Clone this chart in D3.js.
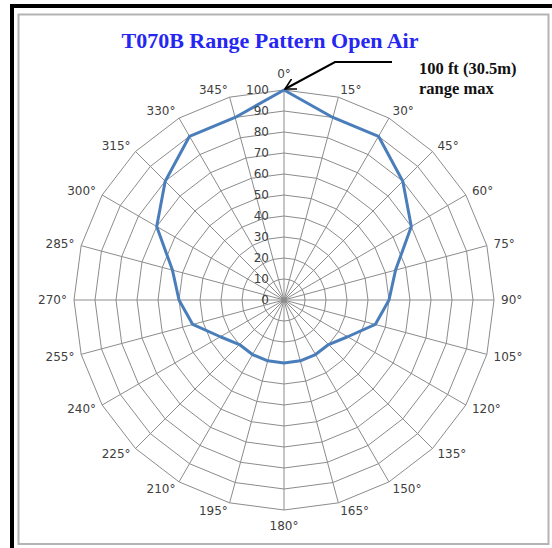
<!DOCTYPE html>
<html>
<head>
<meta charset="utf-8">
<script src="https://cdn.jsdelivr.net/npm/d3@7"></script>
<style>
  body { margin: 0; background: #fff; }
  svg { display: block; }
</style>
</head>
<body>
<div id="chart"></div>
<script>
/* T070B range pattern - radar chart */

const directions = [0, 15, 30, 45, 60, 75, 90, 105, 120, 135, 150, 165,
  180, 195, 210, 225, 240, 255, 270, 285, 300, 315, 330, 345];
const range = [100, 90, 90, 80, 70, 55, 50, 45, 35, 30, 30, 30,
  30, 30, 30, 30, 35, 45, 50, 55, 70, 80, 90, 90];
const ticks = [0, 10, 20, 30, 40, 50, 60, 70, 80, 90, 100];

const width = 552, height = 548;
const cx = 284, cy = 300;

const svg = d3.select('#chart').append('svg')
  .attr('width', width)
  .attr('height', height);

// Frame: black outer edges + gray inner box
svg.append('rect').attr('x', 10).attr('y', 4).attr('width', 542).attr('height', 4).attr('fill', '#000');
svg.append('rect').attr('x', 10).attr('y', 4).attr('width', 4).attr('height', 544).attr('fill', '#000');
svg.append('rect')
  .attr('x', 18.5).attr('y', 14.5).attr('width', 530).attr('height', 529.5)
  .attr('fill', 'none').attr('stroke', '#b4b4b4').attr('stroke-width', 2);

const r = d3.scaleLinear().domain([0, 100]).range([0, 210]);
const angle = d3.scaleLinear().domain([0, 360]).range([0, 2 * Math.PI]);

const g = svg.append('g').attr('transform', `translate(${cx},${cy})`);

const pt = (deg, v) => [Math.sin(angle(deg)) * r(v), -Math.cos(angle(deg)) * r(v)];

// Ring polygons
g.selectAll('.ring')
  .data(ticks.slice(1))
  .enter()
  .append('polygon')
  .attr('class', 'ring')
  .attr('points', t => directions.map(d => pt(d, t).join(',')).join(' '))
  .attr('fill', 'none')
  .attr('stroke', '#8c8c8c')
  .attr('stroke-width', 1);

// Spokes
g.selectAll('.spoke')
  .data(directions)
  .enter()
  .append('line')
  .attr('class', 'spoke')
  .attr('x1', 0).attr('y1', 0)
  .attr('x2', d => pt(d, 100)[0])
  .attr('y2', d => pt(d, 100)[1])
  .attr('stroke', '#8c8c8c')
  .attr('stroke-width', 1);

// Series
const line = d3.lineRadial()
  .angle(d => angle(d[0]))
  .radius(d => r(d[1]))
  .curve(d3.curveLinearClosed);

g.append('path')
  .datum(directions.map((d, i) => [d, range[i]]))
  .attr('d', line)
  .attr('fill', 'none')
  .attr('stroke', '#4a7ebb')
  .attr('stroke-width', 3)
  .attr('stroke-linejoin', 'round');

// Value labels along 0 deg spoke
g.selectAll('.tick')
  .data(ticks)
  .enter()
  .append('text')
  .attr('class', 'tick')
  .attr('x', -15)
  .attr('y', t => -r(t))
  .attr('dy', '0.35em')
  .attr('text-anchor', 'end')
  .attr('font-family', 'DejaVu Sans, sans-serif')
  .attr('font-size', '12px')
  .attr('fill', '#404040')
  .text(t => t);

// Direction labels
g.selectAll('.dir')
  .data(directions)
  .enter()
  .append('text')
  .attr('class', 'dir')
  .each(function(d) {
    const [ex, ey] = pt(d, 100);
    const s = Math.sin(angle(d)), c = -Math.cos(angle(d));
    const el = d3.select(this);
    if (d === 0 || d === 180) {
      el.attr('x', ex).attr('y', ey + (d === 0 ? -16 : 16)).attr('text-anchor', 'middle');
    } else {
      el.attr('x', ex + s * 7).attr('y', ey + c * 8)
        .attr('text-anchor', s > 0 ? 'start' : 'end');
    }
  })
  .attr('dy', '0.35em')
  .attr('font-family', 'DejaVu Sans, sans-serif')
  .attr('font-size', '12px')
  .attr('fill', '#404040')
  .text(d => d + '°');

// Title
svg.append('text')
  .attr('x', 270)
  .attr('y', 48)
  .attr('text-anchor', 'middle')
  .attr('font-family', 'Liberation Serif, serif')
  .attr('font-weight', 'bold')
  .attr('font-size', '22px')
  .attr('fill', '#2626f2')
  .text('T070B Range Pattern Open Air');

// Range max annotation
svg.append('defs').append('marker')
  .attr('id', 'arrow')
  .attr('viewBox', '0 0 12 12')
  .attr('refX', 11).attr('refY', 6)
  .attr('markerWidth', 12).attr('markerHeight', 12)
  .attr('markerUnits', 'userSpaceOnUse')
  .attr('orient', 'auto')
  .append('path')
  .attr('d', 'M0,0 L11,6 L0,12')
  .attr('fill', 'none')
  .attr('stroke', '#000')
  .attr('stroke-width', 1.6);

const tip = pt(0, 100);
svg.append('path')
  .attr('d', `M392,62 L335,62 L${cx + tip[0] + 1},${cy + tip[1] - 1}`)
  .attr('fill', 'none')
  .attr('stroke', '#000')
  .attr('stroke-width', 2)
  .attr('marker-end', 'url(#arrow)');

svg.append('text')
  .attr('x', 419).attr('y', 74)
  .attr('font-family', 'Liberation Serif, serif')
  .attr('font-weight', 'bold')
  .attr('font-size', '16.5px')
  .attr('fill', '#111')
  .text('100 ft (30.5m)');

svg.append('text')
  .attr('x', 419).attr('y', 94)
  .attr('font-family', 'Liberation Serif, serif')
  .attr('font-weight', 'bold')
  .attr('font-size', '16.5px')
  .attr('fill', '#111')
  .text('range max');
</script>
</body>
</html>
